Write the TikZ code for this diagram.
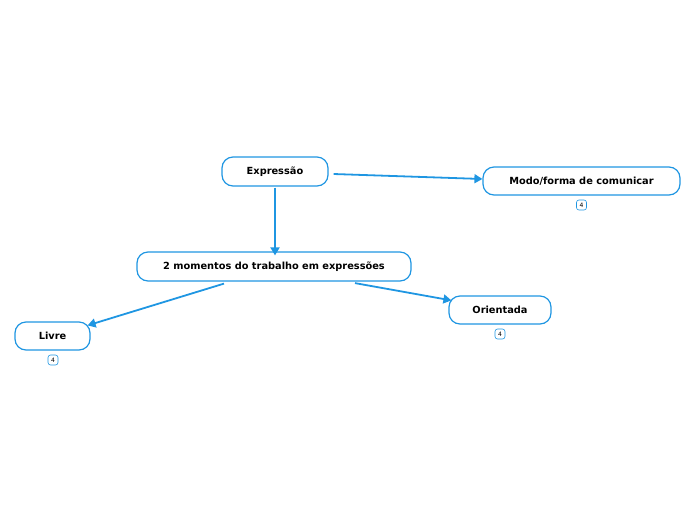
\documentclass[tikz,border=0pt]{standalone}
\usepackage{fontspec}
\setmainfont{DejaVu Sans}
\usetikzlibrary{arrows.meta,calc}
\definecolor{mblue}{HTML}{1F96E2}
\tikzset{
  topic/.style={draw=mblue, line width=1.2pt, rounded corners=11pt, fill=white,
    inner sep=0pt, font=\bfseries\fontsize{9.8}{11}\selectfont, text=black},
  badge/.style={draw=mblue, line width=0.6pt, rounded corners=2.5pt, minimum width=10pt,
    minimum height=10pt, inner sep=0pt, font=\fontsize{6}{7}\selectfont},
  link/.style={draw=mblue, line width=1.8pt, -{Triangle[length=8pt,width=9pt]}}
}
\begin{document}
\begin{tikzpicture}[x=1pt,y=-1pt]
\useasboundingbox (0,0) rectangle (696,520);
\node[topic, minimum width=106pt, minimum height=29pt] (e) at (275,171.5) {Expressão};
\node[topic, minimum width=197pt, minimum height=28pt] (m) at (581.5,181) {Modo/forma de comunicar};
\node[topic, minimum width=274pt, minimum height=29pt] (mo) at (274,266.5) {2 momentos do trabalho em expressões};
\node[topic, minimum width=75pt, minimum height=28pt] (l) at (52.5,336) {Livre};
\node[topic, minimum width=102pt, minimum height=28pt] (o) at (500,310) {Orientada};
\node[badge] (bm) at (581.5,205) {4};
\node[badge] (bo) at (500,334) {4};
\node[badge] (bl) at (53,360) {4};
\draw[link] ([xshift=5pt,yshift=-2.5pt]e.east) -- ([yshift=2pt]m.west);
\draw[link] ([yshift=-1pt]e.south) -- ([yshift=-4pt]e.south |- mo.north);
\draw[link] ([xshift=-50pt,yshift=-2pt]mo.south) -- ([xshift=-3pt,yshift=-4pt]l.north east);
\draw[link] ([xshift=81pt,yshift=-1.5pt]mo.south) -- ([xshift=3pt,yshift=-5pt]o.north west);
\end{tikzpicture}
\end{document}
